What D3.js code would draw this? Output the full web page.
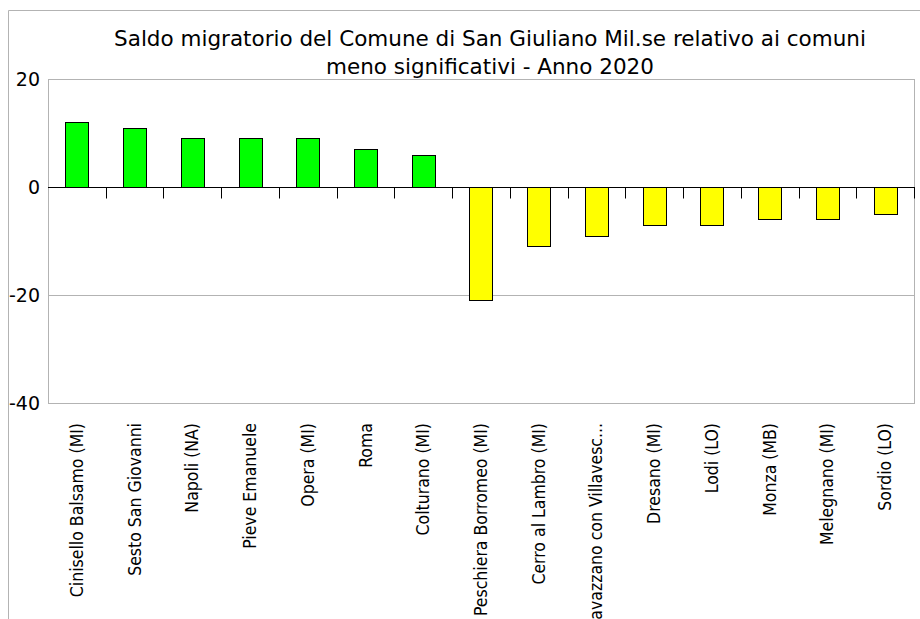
<!DOCTYPE html>
<html><head><meta charset="utf-8">
<script src="https://cdn.jsdelivr.net/npm/d3@7"></script>
<style>body{margin:0;background:#fff}svg{display:block}</style>
</head><body>
<svg id="c" width="920" height="619"></svg>
<script>
const categories = ["Cinisello Balsamo (MI)","Sesto San Giovanni","Napoli (NA)","Pieve Emanuele","Opera (MI)","Roma","Colturano (MI)","Peschiera Borromeo (MI)","Cerro al Lambro (MI)","Cavazzano con Villavesc...","Dresano (MI)","Lodi (LO)","Monza (MB)","Melegnano (MI)","Sordio (LO)"];
const values = [12,11,9,9,9,7,6,-21,-11,-9,-7,-7,-6,-6,-5];
const yTicks = [20,0,-20,-40];
const titleLines = ["Saldo migratorio del Comune di San Giuliano Mil.se relativo ai comuni","meno significativi - Anno 2020"];

const svg = d3.select("#c");
const font = "DejaVu Sans";
const L=48, R=914, T=79, B=403;
const x = d3.scaleBand().domain(categories).range([L,R]).paddingInner(0).paddingOuter(0);
const y = d3.scaleLinear().domain([-40,20]).range([B,T]);

// outer frame
svg.append("path").attr("d","M8.5,619 V10.5 H920").attr("fill","none").attr("stroke","#b3b3b3");

// plot area border + grid
svg.append("rect").attr("x",L+0.5).attr("y",T+0.5).attr("width",R-L).attr("height",B-T)
  .attr("fill","none").attr("stroke","#b3b3b3");
svg.selectAll(".grid").data(yTicks.filter(d=>d!==0)).join("line")
  .attr("x1",L).attr("x2",R).attr("y1",d=>Math.round(y(d))+0.5).attr("y2",d=>Math.round(y(d))+0.5)
  .attr("stroke","#b3b3b3");

// bars
svg.selectAll(".bar").data(values).join("rect")
  .attr("x",(d,i)=>Math.round(x(categories[i])+x.bandwidth()*0.3)+0.5)
  .attr("width",Math.round(x.bandwidth()*0.4))
  .attr("y",d=>Math.round(y(Math.max(0,d)))+0.5)
  .attr("height",d=>Math.abs(Math.round(y(d))-Math.round(y(0))))
  .attr("fill",d=>d>=0?"#00ff00":"#ffff00")
  .attr("stroke","#000").attr("stroke-width",1);

// zero axis with ticks
const y0 = Math.round(y(0))+0.5;
svg.append("line").attr("x1",L).attr("x2",R+1).attr("y1",y0).attr("y2",y0).attr("stroke","#000");
const bounds = categories.map(c=>x(c)).concat([R]).slice(1);
svg.selectAll(".tk").data(bounds).join("line")
  .attr("x1",d=>Math.round(d)+0.5).attr("x2",d=>Math.round(d)+0.5)
  .attr("y1",y0).attr("y2",y0+11).attr("stroke","#000");

// y labels
svg.selectAll(".yl").data(yTicks).join("text")
  .attr("x",40).attr("y",d=>y(d)+7).attr("text-anchor","end")
  .attr("font-family",font).attr("font-size",19).attr("fill","#000")
  .text(d=>d);

// x labels
svg.selectAll(".xl").data(categories).join("text")
  .attr("transform",c=>`translate(${x(c)+x.bandwidth()/2+6},423) rotate(-90)`)
  .attr("text-anchor","end").attr("font-family","DejaVu Sans Condensed, DejaVu Sans").attr("font-size",17.5)
  .text(c=>c);

// title
const tt = svg.selectAll(".tt").data(titleLines).join("text")
  .attr("x",490).attr("y",(d,i)=>46+i*28).attr("text-anchor","middle")
  .attr("font-family",font).attr("font-size",21.5).text(d=>d);
</script>
</body></html>
